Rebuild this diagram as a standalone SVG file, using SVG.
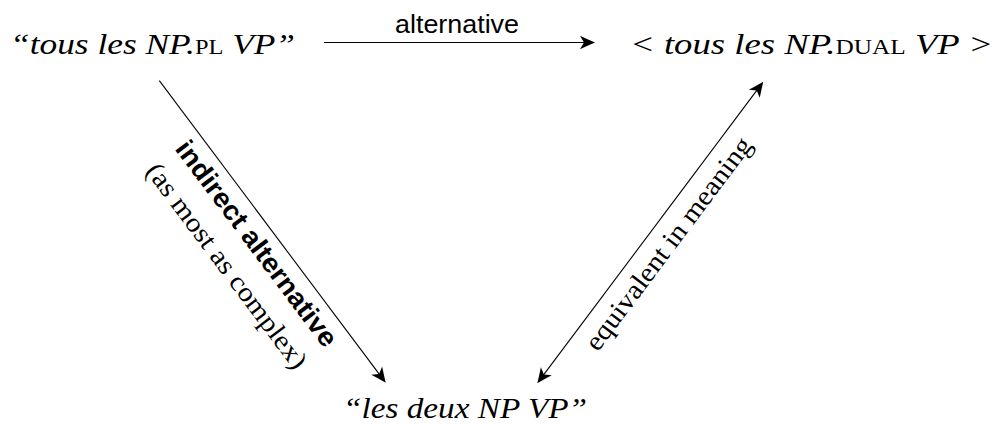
<svg xmlns="http://www.w3.org/2000/svg" width="998" height="432" viewBox="0 0 998 432">
<style>
.main{font-family:"Liberation Serif","Times New Roman",serif;font-style:italic;font-size:29px;fill:#000}
.sc{font-style:normal;font-variant:small-caps}
.lab{font-family:"Liberation Serif","Times New Roman",serif;font-size:27px;fill:#000}
.sans{font-family:"Liberation Sans",Arial,sans-serif;font-size:25px;fill:#000}
.bold{font-family:"Liberation Sans",Arial,sans-serif;font-size:27px;font-weight:bold;fill:#000}
.edge{stroke:#000;stroke-width:1.1;fill:none}
</style>
<defs>
<marker id="arr" markerUnits="userSpaceOnUse" viewBox="-18 -10 20 20" markerWidth="20" markerHeight="20" refX="-3" refY="0" orient="auto-start-reverse">
<path d="M0,0 Q-7,-3 -15,-6.8 L-11,0 L-15,6.8 Q-7,3 0,0 Z" fill="#000"/>
</marker>
</defs>
<g id="connectors">
<path class="edge" d="M324,42.5 L592,42.5" marker-end="url(#arr)"/>
<path class="edge" d="M159.3,80.7 L383.9,380.3" marker-end="url(#arr)"/>
<path class="edge" d="M539.1,380.9 L761.5,84.1" marker-start="url(#arr)" marker-end="url(#arr)"/>
<text class="sans" x="395" y="33" textLength="124" lengthAdjust="spacingAndGlyphs">alternative</text>
<text class="bold" transform="translate(249.3,249.1) rotate(53.15)" text-anchor="middle" textLength="250" lengthAdjust="spacingAndGlyphs">indirect alternative</text>
<text class="lab" transform="translate(219.7,271.2) rotate(53.15)" text-anchor="middle" textLength="250" lengthAdjust="spacingAndGlyphs">(as most as complex)</text>
<text class="lab" transform="translate(675.5,248.9) rotate(-53.16)" text-anchor="middle" textLength="259" lengthAdjust="spacingAndGlyphs">equivalent in meaning</text>
</g>
<g id="node-pl">
<text class="main" x="10" y="54" textLength="285" lengthAdjust="spacingAndGlyphs">“tous les NP.<tspan class="sc">pl</tspan> VP”</text>
</g>
<g id="node-dual">
<text class="main" x="630" y="54" textLength="363" lengthAdjust="spacingAndGlyphs">&lt; tous les NP.<tspan class="sc">dual</tspan> VP &gt;</text>
</g>
<g id="node-deux">
<text class="main" x="343" y="418" textLength="244" lengthAdjust="spacingAndGlyphs">“les deux NP VP”</text>
</g>
</svg>
